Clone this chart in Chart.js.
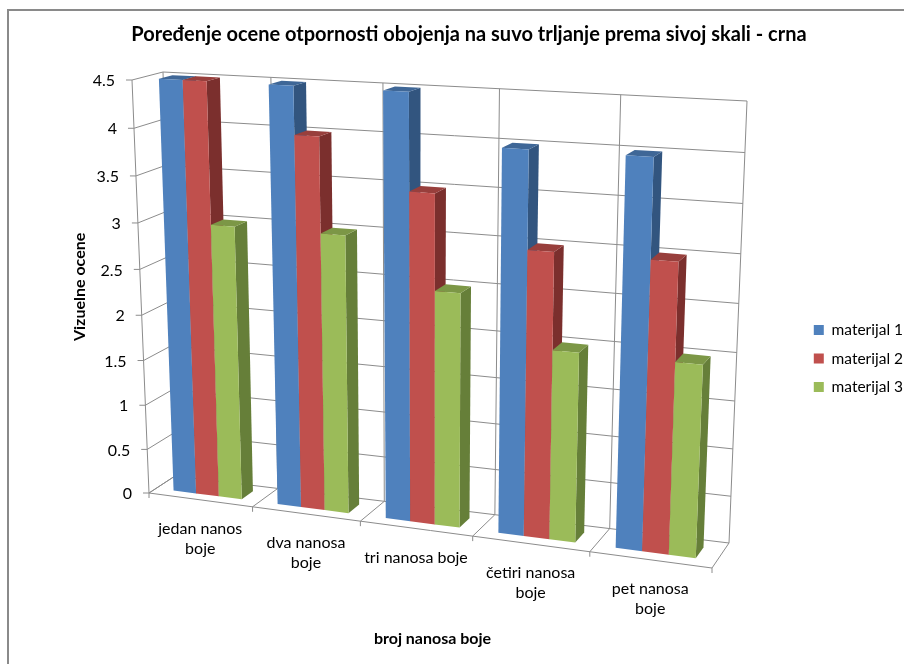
<!DOCTYPE html>
<html>
<head>
<meta charset="utf-8">
<script src="https://cdn.jsdelivr.net/npm/chart.js@4/dist/chart.umd.js"></script>
<style>
html, body { margin: 0; padding: 0; background: #fff; overflow: hidden; }
canvas { display: block; }
</style>
</head>
<body>
<canvas id="myChart" width="904" height="664"></canvas>
<script>
var categories = [["jedan nanos", "boje"], ["dva nanosa", "boje"], ["tri nanosa boje"], ["četiri nanosa", "boje"], ["pet nanosa", "boje"]];
var materijal1 = [4.5, 4.5, 4.5, 4, 4];
var materijal2 = [4.5, 4, 3.5, 3, 3];
var materijal3 = [3, 3, 2.5, 2, 2];

var fontName = "Lato, 'Open Sans', sans-serif";
var gridColor = "#8c8c8c";

//colours for front, side and top of the bars
var faces = [
    { front: "#4f81bd", side: "#32557f", top: "#3f6797" },
    { front: "#c0504d", side: "#7b2f2d", top: "#983f3c" },
    { front: "#9bbb59", side: "#667f39", top: "#7c9746" }
];

//corners of the 3d box on the page: bottom-left, bottom-right, top-right, top-left
var frontWall = [[149, 493], [712, 568], [730, 112], [132, 80]];
var backWall = [[175, 476], [729, 543], [747, 101], [163, 72]];

function squareToQuad(q) {
    var dx1 = q[1][0] - q[2][0], dx2 = q[3][0] - q[2][0], sx = q[0][0] - q[1][0] + q[2][0] - q[3][0];
    var dy1 = q[1][1] - q[2][1], dy2 = q[3][1] - q[2][1], sy = q[0][1] - q[1][1] + q[2][1] - q[3][1];
    var det = dx1 * dy2 - dx2 * dy1;
    var g = (sx * dy2 - dx2 * sy) / det;
    var h = (dx1 * sy - sx * dy1) / det;
    var a = q[1][0] - q[0][0] + g * q[1][0], b = q[3][0] - q[0][0] + h * q[3][0];
    var d = q[1][1] - q[0][1] + g * q[1][1], e = q[3][1] - q[0][1] + h * q[3][1];
    return function(u, v) {
        var w = g * u + h * v + 1;
        return [(a * u + b * v + q[0][0]) / w, (d * u + e * v + q[0][1]) / w];
    };
}
var toFront = squareToQuad(frontWall);
var toBack = squareToQuad(backWall);

//u along categories, v along values, d depth (all 0..1)
function project(u, v, d) {
    var f = toFront(u, v), b = toBack(u, v);
    return [f[0] + (b[0] - f[0]) * d, f[1] + (b[1] - f[1]) * d];
}

function line(ctx, a, b) {
    ctx.beginPath();
    ctx.moveTo(a[0], a[1]);
    ctx.lineTo(b[0], b[1]);
    ctx.stroke();
}

function poly(ctx, pts, color) {
    ctx.fillStyle = color;
    ctx.beginPath();
    ctx.moveTo(pts[0][0], pts[0][1]);
    for (var i = 1; i < pts.length; i++) {
        ctx.lineTo(pts[i][0], pts[i][1]);
    }
    ctx.closePath();
    ctx.fill();
}

var perspectivePlugin = {
    id: "perspective",
    afterLayout: function(chart) {
        //legend sits further right and lower than the layout puts it
        chart.legend.left += 33;
        chart.legend.right += 33;
        chart.legend.top += 19;
        chart.legend.bottom += 19;
    },
    beforeDraw: function(chart) {
        var ctx = chart.ctx;
        ctx.save();
        ctx.fillStyle = "#fff";
        ctx.fillRect(0, 0, 904, 664);
        //outer frame of the chart
        ctx.strokeStyle = "#8a8a8a";
        ctx.lineWidth = 2;
        ctx.strokeRect(8, 10, 1000, 1000);
        ctx.restore();
    },
    beforeDatasetsDraw: function(chart) {
        var ctx = chart.ctx;
        var area = chart.chartArea;
        var yScale = chart.scales.y;
        var xScale = chart.scales.x;
        var i;
        ctx.save();

        //walls and floor
        ctx.strokeStyle = gridColor;
        ctx.lineWidth = 1;
        ctx.fillStyle = "#000";
        ctx.font = "16px " + fontName;
        ctx.textBaseline = "middle";
        ctx.textAlign = "right";
        yScale.ticks.forEach(function(t) {
            var v = (area.bottom - yScale.getPixelForValue(t.value)) / area.height;
            var p = project(0, v, 0);
            line(ctx, [p[0] - 6, p[1]], p);
            line(ctx, p, project(0, v, 1));
            line(ctx, project(0, v, 1), project(1, v, 1));
            ctx.fillText(t.label, p[0] - 17, p[1] + 1);
        });
        var n = categories.length;
        for (i = 0; i <= n; i++) {
            var a = project(i / n, 0, 0);
            line(ctx, [a[0], a[1] + 5], a);
            line(ctx, a, project(i / n, 0, 1));
            line(ctx, project(i / n, 0, 1), project(i / n, 1, 1));
        }
        line(ctx, project(0, 0, 0), project(1, 0, 0));
        line(ctx, project(0, 0, 0), project(0, 1, 0));

        //category labels follow the slanted floor
        ctx.textAlign = "center";
        categories.forEach(function(lines, c) {
            var u = (xScale.getPixelForValue(c) - area.left) / area.width;
            var p = project(u, 0, 0);
            lines.forEach(function(txt, k) {
                ctx.fillText(txt, p[0], p[1] + 29 + k * 20);
            });
        });

        //bars, left to right so the next one covers the side of the previous
        var d0 = 0.28, d1 = 0.72;
        for (var c = 0; c < n; c++) {
            for (var s = 0; s < chart.data.datasets.length; s++) {
                var el = chart.getDatasetMeta(s).data[c];
                var u0 = (el.x - el.width / 2 - area.left) / area.width;
                var u1 = (el.x + el.width / 2 - area.left) / area.width;
                var v1 = (area.bottom - el.y) / area.height;
                var v0 = (area.bottom - el.base) / area.height;
                poly(ctx, [project(u1, v0, d0), project(u1, v0, d1), project(u1, v1, d1), project(u1, v1, d0)], faces[s].side);
                poly(ctx, [project(u0, v1, d0), project(u1, v1, d0), project(u1, v1, d1), project(u0, v1, d1)], faces[s].top);
                poly(ctx, [project(u0, v0, d0), project(u1, v0, d0), project(u1, v1, d0), project(u0, v1, d0)], faces[s].front);
            }
        }
        ctx.restore();
        return false;
    }
};

var ctx = document.getElementById("myChart").getContext("2d");
var myChart = new Chart(ctx, {
    type: "bar",
    plugins: [perspectivePlugin],
    data: {
        labels: categories,
        datasets: [
            { label: "materijal 1", data: materijal1, backgroundColor: faces[0].front },
            { label: "materijal 2", data: materijal2, backgroundColor: faces[1].front },
            { label: "materijal 3", data: materijal3, backgroundColor: faces[2].front }
        ]
    },
    options: {
        responsive: false,
        animation: false,
        categoryPercentage: 0.66,
        barPercentage: 1,
        layout: { padding: { left: 58, right: 24, top: 15 } },
        plugins: {
            tooltip: { enabled: false },
            title: {
                display: true,
                text: "Poređenje ocene otpornosti obojenja na suvo trljanje prema sivoj skali - crna",
                color: "#000",
                font: { family: fontName, size: 20, weight: "bold" },
                padding: { top: 8, bottom: 36 }
            },
            legend: {
                position: "right",
                labels: {
                    boxWidth: 10,
                    boxHeight: 10,
                    padding: 13,
                    color: "#000",
                    font: { family: fontName, size: 15.5 }
                }
            }
        },
        scales: {
            x: {
                grid: { display: false },
                border: { display: false },
                ticks: { display: false },
                title: {
                    display: true,
                    text: "broj nanosa boje",
                    color: "#000",
                    font: { family: fontName, size: 16, weight: "bold" },
                    padding: { top: 130, bottom: 16 }
                }
            },
            y: {
                min: 0,
                max: 4.5,
                grid: { display: false },
                border: { display: false },
                ticks: {
                    display: false,
                    stepSize: 0.5,
                    callback: function(value) { return String(value); }
                },
                title: {
                    display: true,
                    text: "Vizuelne ocene",
                    color: "#000",
                    font: { family: fontName, size: 16, weight: "bold" },
                    padding: { top: 12, bottom: 0 }
                }
            }
        }
    }
});
</script>
</body>
</html>
